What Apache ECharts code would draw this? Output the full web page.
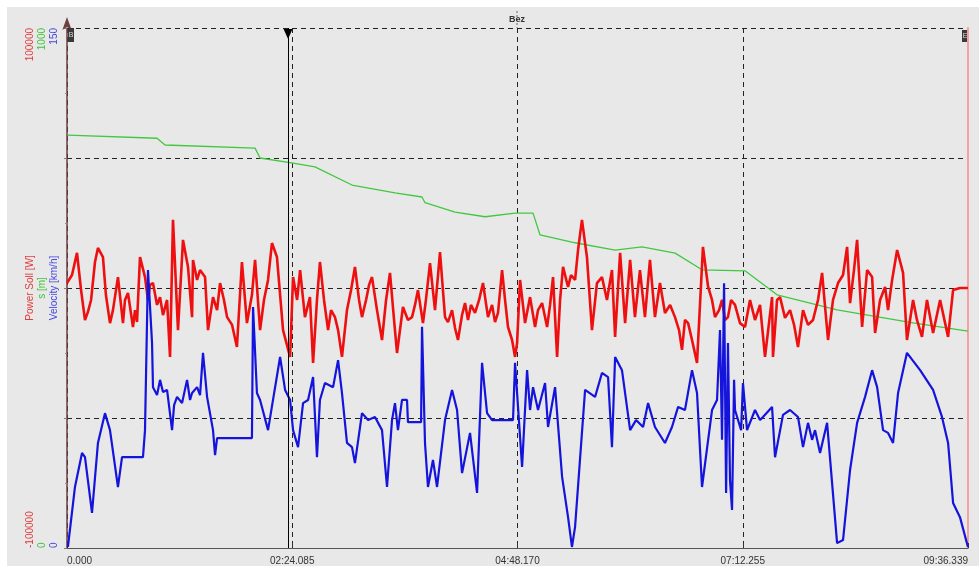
<!DOCTYPE html>
<html>
<head>
<meta charset="utf-8">
<script src="https://cdn.jsdelivr.net/npm/echarts@6/dist/echarts.min.js"></script>
<style>
  html, body { margin: 0; padding: 0; background: #ffffff; }
  #chart { position: absolute; left: 7px; top: 7px; width: 972px; height: 559px; background: #e8e8e8; }
</style>
</head>
<body>
<div id="chart"></div>
<script>
// time in seconds
var xTickLabels = ["0.000", "02:24.085", "04:48.170", "07:12.255", "09:36.339"];
var cursorTime = 141.4;

// Power Soll [W]
var redTime = [0,3.2,6.4,9.0,11.5,13.4,15.4,17.9,19.8,23.0,
  24.9,27.5,29.4,32.6,35.8,37.1,39.0,42.2,43.5,44.8,
  46.7,49.9,51.8,53.1,55.0,57.6,59.5,61.4,64.0,65.9,
  67.8,71.0,74.2,77.4,80.0,80.6,83.2,85.1,88.3,90.2,
  93.4,96.0,97.9,100.4,102.4,105.6,108.7,111.9,115.1,118.3,
  120.3,123.5,126.0,128.6,131.1,134.3,138.2,142.7,144.6,147.2,
  149.1,152.2,155.4,157.4,159.9,161.8,164.4,167.0,168.9,171.4,
  173.4,175.9,179.1,181.7,184.2,186.8,188.7,191.3,193.2,195.1,
  198.3,201.5,204.1,206.6,209.2,211.1,214.9,218.1,220.7,222.6,
  224.5,227.7,229.6,232.2,235.4,238.6,241.8,243.7,246.3,248.2,
  250.1,252.7,254.6,256.5,258.4,261.0,263.6,266.1,269.3,271.9,
  273.8,275.7,278.3,280.2,282.1,284.7,286.6,287.9,289.8,293.0,
  296.2,299.4,301.3,303.9,307.1,309.0,310.9,313.5,315.4,317.3,
  320.5,322.4,325.0,326.9,329.4,332.6,335.8,339.0,342.2,345.4,
  348.6,350.6,353.8,357.0,360.2,363.3,366.5,369.7,372.9,376.1,
  379.3,382.5,385.8,388.9,391.5,393.4,395.3,397.3,399.8,403.0,
  406.8,410.1,412.6,414.5,417.1,419.0,420.9,422.8,424.8,427.3,
  430.5,433.7,436.9,440.1,443.3,446.5,451.0,451.6,454.2,456.1,
  459.3,462.5,465.1,467.6,470.8,474.0,477.2,480.4,483.0,486.8,
  490.0,493.2,496.4,499.0,500.9,503.4,505.4,508.6,511.8,515.0,
  516.9,520.1,523.3,525.2,527.8,531.0,534.8,537.3,541.2,543.7,
  546.9,550.1,554.0,558.5,563.6,566.8,571.2,576.3];
var redPower = [1900,5000,13500,-800,-12300,-9200,-4600,10000,15400,11900,
  -2700,-13500,-8500,4200,-13500,-4600,-1900,-15000,-8500,-13100,
  11900,4200,-4600,1200,1900,-6500,-3500,-10400,-4600,-26500,
  26200,-16200,18500,8100,-11200,10800,3100,6900,4200,-16200,
  -3500,-8500,1900,-4600,-11200,-14200,-22700,10000,-13500,-2700,
  10800,-16200,-4600,3100,17300,11900,-16200,-26500,4200,-4600,
  6900,-11200,-3500,-28800,-4600,10000,-4600,-16200,-8500,-11200,
  -16200,-26500,-8500,-800,8100,-4600,-11200,-4600,1200,4200,
  -8500,-20000,-4600,5800,-12300,-25000,-7300,-12300,-11200,-6500,
  -800,-13500,-4600,9600,-8500,13800,-11200,-13100,-8500,-15400,
  -20000,-10400,-5800,-12300,-6500,-9600,-4600,1900,-11200,-6500,
  -13100,-9600,6900,-4600,-15000,-20000,-26500,-21200,3100,-13500,
  -3500,-15000,-8500,-5800,-15000,-6500,4200,-26500,-4600,8100,
  400,5000,3100,14600,26200,11900,-16200,1900,4200,-4600,
  6900,-18800,13500,-13500,10800,-11200,6900,-11200,10800,-11200,
  1900,-9600,-6500,-11200,-16200,-23800,-12300,-13500,-20000,-28800,
  15800,400,-4600,-11200,-8500,-4600,-12300,-11200,-4600,-6500,
  -13500,-15000,-4600,-12300,-6500,-26500,-3500,-26500,-4600,-3500,
  -11500,-8500,-14200,-22700,-8500,-14200,-12300,-4600,5800,-20000,
  -4600,1900,5000,15800,-5800,6900,18500,-15000,6900,4200,
  -17300,-4600,400,-8500,3100,14600,5800,-20000,-4600,-12300,
  -18800,-4600,-17300,-4600,-18800,-800,0,0];

// s [m]
var greenTime = [0.6,57.6,62.7,120.3,123.5,144.6,158.6,182.3,209.8,227.1,
  229.0,248.2,267.4,286.6,298.1,302.6,325.0,350.6,367.8,389.0,
  406.2,433.7,454.2,492.6,541.2,576.3];
var greenDist = [794,788,775,769,750,740,733,698,683,675,
  664,646,637,644,644,602,587,573,579,567,
  535,533,487,458,433,417];

// Velocity [km/h]
var blueTime = [0.6,5.1,9.6,11.5,16.0,19.8,24.3,27.5,32.6,35.2,
  48.6,49.9,51.8,54.4,55.0,57.6,59.5,61.4,64.0,67.2,
  68.5,70.4,73.6,76.8,78.7,80.0,83.2,85.1,87.0,89.6,
  93.4,94.7,96.0,118.3,119.0,121.5,123.5,128.6,136.3,139.5,
  142.7,144.6,147.8,151.0,154.2,157.4,159.9,161.8,165.0,170.2,
  173.4,175.9,179.1,182.3,184.2,188.7,192.6,197.0,201.5,204.7,
  207.9,209.8,211.7,214.3,217.5,218.1,226.5,227.1,229.0,230.9,
  234.1,236.7,241.8,246.3,249.5,252.7,257.8,262.3,265.5,268.7,
  271.9,285.3,286.6,291.1,294.3,296.2,298.1,301.3,305.8,307.7,
  312.2,316.7,320.5,323.0,325.0,331.4,337.8,342.2,346.1,348.6,
  350.6,355.0,360.2,364.0,368.5,371.7,376.1,379.3,382.5,387.0,
  390.9,395.3,399.8,403.0,406.2,412.6,415.8,417.7,419.0,420.3,
  421.6,422.8,424.1,425.4,426.7,427.3,431.2,432.4,435.0,440.1,
  443.3,445.2,451.0,452.9,458.0,462.5,467.6,470.8,474.0,476.6,
  478.5,481.7,486.2,492.6,496.4,500.9,505.4,510.5,515.0,518.2,
  522.0,525.2,528.4,531.6,537.3,545.7,554.0,559.7,563.6,566.8,
  571.2,576.3];
var blueVel = [0.3,17.6,27.4,26.2,10.1,30.3,38.9,34.0,17.6,26.2,
  26.2,34.0,80.2,59.1,46.4,44.1,48.5,45.0,45.6,34.0,
  41.2,43.6,41.8,48.5,42.7,44.7,46.4,44.1,56.3,43.6,
  34.0,26.8,31.7,31.7,69.5,44.7,42.7,34.0,55.1,45.6,
  42.7,34.0,29.1,41.8,42.7,49.3,26.2,42.7,47.6,46.4,
  54.2,44.7,30.3,29.1,24.5,38.9,36.9,37.8,34.0,17.6,
  36.9,41.8,34.0,42.7,42.7,36.3,36.3,63.8,30.3,17.6,
  25.4,17.6,36.9,45.6,39.8,21.6,33.2,15.9,53.4,38.9,
  36.9,36.9,53.4,23.4,51.3,39.8,46.4,39.8,47.6,34.9,
  46.4,20.5,8.9,0.3,6.1,45.6,43.6,50.5,49.3,29.1,
  55.1,51.3,34.0,36.9,34.9,41.8,34.9,32.6,30.3,34.9,
  40.7,39.8,51.3,44.7,17.6,39.8,42.7,62.9,31.2,76.4,
  15.9,59.1,19.6,11.0,48.5,39.8,34.0,47.6,34.0,39.8,
  36.9,37.8,40.7,26.2,38.4,39.8,37.8,29.1,36.1,31.2,
  34.0,27.4,36.1,1.4,2.3,22.5,36.1,43.6,51.3,46.4,
  34.0,33.2,30.3,44.7,56.3,51.3,45.6,37.8,30.3,13.0,
  8.9,0.3];

function zip(a, b) {
  return a.map(function (t, i) { return [t, b[i]]; });
}

var FONT = "Liberation Sans";

// rotated min / max labels only, like the original software
function yLabel(color, margin, lo, hi) {
  return {
    rotate: 90,
    color: color,
    fontSize: 10,
    fontFamily: FONT,
    margin: margin,
    showMinLabel: true,
    showMaxLabel: true,
    align: "center",
    alignMinLabel: "left",
    alignMaxLabel: "right",
    verticalAlign: "bottom",
    formatter: function (v) {
      return v === lo || v === hi ? String(v) : "";
    },
  };
}

function yName(color) {
  return { color: color, fontSize: 10, fontFamily: FONT, verticalAlign: "bottom" };
}

var myChart = echarts.init(document.getElementById("chart"));
var option = {
  animation: false,
  backgroundColor: "#e8e8e8",
  grid: { left: 60, top: 21, right: 11, bottom: 18, outerBoundsMode: "none", containLabel: false },
  xAxis: {
    type: "value",
    min: 0,
    max: 576.339,
    interval: 144.08475,
    axisLine: { onZero: false, lineStyle: { color: "#555", width: 1 } },
    axisTick: { inside: true, length: 5, lineStyle: { color: "#333" } },
    axisLabel: {
      color: "#333",
      fontSize: 10,
      fontFamily: FONT,
      margin: 8,
      showMinLabel: true,
      showMaxLabel: true,
      alignMinLabel: "left",
      alignMaxLabel: "right",
      formatter: function (v, i) { return xTickLabels[i]; },
    },
    splitLine: { show: true, lineStyle: { color: "#222", type: [5, 4], width: 1 } },
  },
  yAxis: [
    {
      type: "value",
      min: -100000,
      max: 100000,
      interval: 50000,
      position: "left",
      name: "Power Soll [W]",
      nameLocation: "middle",
      nameRotate: 90,
      nameGap: 32,
      nameMoveOverlap: false,
      nameTextStyle: yName("#e23a3a"),
      axisLine: { show: true, symbol: ["none", "arrow"], symbolSize: [7, 13], symbolOffset: [0, 11], lineStyle: { color: "#6a4040", width: 1.5 } },
      axisTick: { show: true, length: 3, lineStyle: { color: "#a07070" } },
      minorTick: { show: true, splitNumber: 2, length: 2, lineStyle: { color: "#b08080" } },
      axisLabel: yLabel("#e23a3a", 32, -100000, 100000),
      splitLine: { show: true, lineStyle: { color: "#222", type: [5, 4], width: 1 } },
    },
    {
      type: "value",
      min: 0,
      max: 1000,
      interval: 250,
      position: "left",
      name: "s [m]",
      nameLocation: "middle",
      nameRotate: 90,
      nameGap: 20,
      nameMoveOverlap: false,
      nameTextStyle: yName("#3cc43c"),
      axisLine: { show: false },
      axisTick: { show: false },
      axisLabel: yLabel("#3cc43c", 20, 0, 1000),
      splitLine: { show: false },
    },
    {
      type: "value",
      min: 0,
      max: 150,
      interval: 37.5,
      position: "left",
      name: "Velocity [km/h]",
      nameLocation: "middle",
      nameRotate: 90,
      nameGap: 8,
      nameMoveOverlap: false,
      nameTextStyle: yName("#4646e0"),
      axisLine: { show: false },
      axisTick: { show: false },
      axisLabel: yLabel("#4646e0", 8, 0, 150),
      splitLine: { show: false },
    },
    {
      type: "value",
      min: -100000,
      max: 100000,
      position: "right",
      axisLine: { show: true, lineStyle: { color: "#f2a0a0", width: 2 } },
      axisTick: { show: false },
      axisLabel: { show: false },
      splitLine: { show: false },
    },
  ],
  graphic: [
    { type: "line", shape: { x1: 510, y1: 4, x2: 510, y2: 21 }, style: { stroke: "#666", lineDash: [2, 2], lineWidth: 1 } },
    { type: "text", x: 510, y: 13, style: { text: "Bez", fill: "#333", font: "bold 9px Liberation Sans", textAlign: "center", textVerticalAlign: "middle" } },
    { type: "rect", shape: { x: 61, y: 21, width: 6, height: 14 }, style: { fill: "#3a3a3a" } },
    { type: "text", x: 64, y: 28, style: { text: "B", fill: "#dddddd", font: "7px Liberation Sans", textAlign: "center", textVerticalAlign: "middle" } },
    { type: "rect", shape: { x: 955, y: 23, width: 6, height: 12 }, style: { fill: "#3a3a3a" } },
    { type: "text", x: 958, y: 29, style: { text: "E", fill: "#dddddd", font: "7px Liberation Sans", textAlign: "center", textVerticalAlign: "middle" } },
  ],
  series: [
    {
      name: "s [m]",
      type: "line",
      yAxisIndex: 1,
      data: zip(greenTime, greenDist),
      symbol: "none",
      lineStyle: { color: "#40c840", width: 1.3 },
      z: 2,
    },
    {
      name: "Power Soll [W]",
      type: "line",
      yAxisIndex: 0,
      data: zip(redTime, redPower),
      symbol: "none",
      lineStyle: { color: "#ee1010", width: 2.6 },
      z: 3,
      markLine: {
        silent: true,
        symbol: ["none", "none"],
        label: { show: false },
        lineStyle: { color: "#000", type: "solid", width: 1 },
        data: [{ xAxis: cursorTime }],
      },
      markPoint: {
        silent: true,
        symbol: "triangle",
        symbolRotate: 180,
        symbolSize: [9, 10],
        symbolOffset: [0, 6],
        itemStyle: { color: "#000" },
        label: { show: false },
        data: [{ coord: [cursorTime, 100000] }],
      },
    },
    {
      name: "Velocity [km/h]",
      type: "line",
      yAxisIndex: 2,
      data: zip(blueTime, blueVel),
      symbol: "none",
      lineStyle: { color: "#1414dc", width: 2.2 },
      z: 4,
    },
  ],
};

option && myChart.setOption(option);
</script>
</body>
</html>
